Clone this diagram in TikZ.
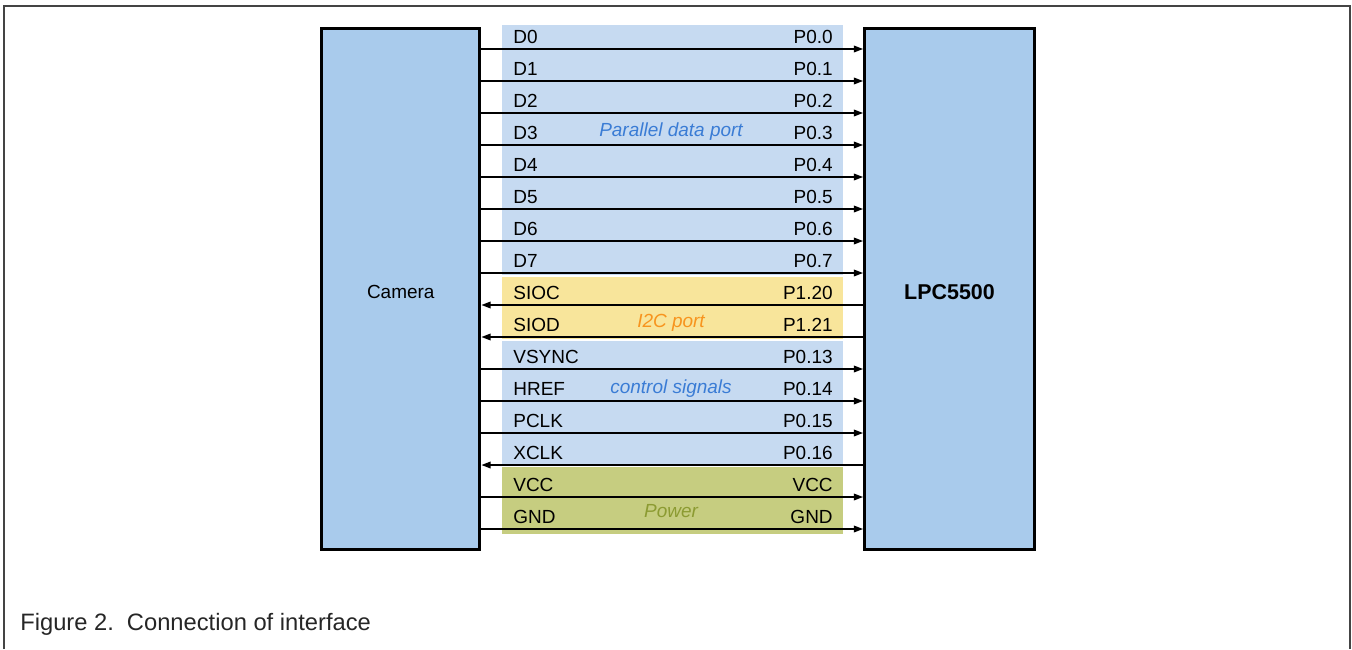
\documentclass[tikz,border=0pt]{standalone}
\usepackage{fontspec}
\setmainfont{Liberation Sans}
\usetikzlibrary{arrows.meta,positioning}

\definecolor{chipblue}{HTML}{A9CBEC}
\definecolor{bandblue}{HTML}{C6DAF1}
\definecolor{bandyellow}{HTML}{F8E59B}
\definecolor{bandolive}{HTML}{C6CD80}
\definecolor{txtblue}{HTML}{3A7CD5}
\definecolor{txtorange}{HTML}{F7941E}
\definecolor{txtolive}{HTML}{8C9B32}
\definecolor{framegray}{HTML}{444444}
\definecolor{capgray}{HTML}{262626}

\begin{document}
\begin{tikzpicture}[x=0.02cm, y=-0.02cm,
  chip/.style={rectangle, draw, line width=1.7pt, fill=chipblue,
               minimum width=3.17cm, minimum height=10.42cm,
               text height=11.2pt, text depth=0pt,
               font=\fontsize{10.8}{13}\selectfont},
  lbl/.style={inner sep=0pt, font=\fontsize{10.8}{13}\selectfont, text=black},
  grp/.style={inner sep=0pt, anchor=base,
              font=\fontsize{10.8}{13}\selectfont\itshape},
  wire/.style={line width=0.75pt},
  fwd/.style={-{Triangle[length=5.2pt,width=3.8pt]}},
  back/.style={{Triangle[length=5.2pt,width=3.8pt]}-}
]
  \useasboundingbox (0,0) rectangle (1352,649);
  \draw[line width=1.14pt, draw=framegray] (4,649) -- (4,6) -- (1350,6) -- (1350,649);

  \fill[bandblue] (502,25) rectangle (843,275);
  \fill[bandyellow] (502,277) rectangle (843,339);
  \fill[bandblue] (502,341) rectangle (843,464);
  \fill[bandolive] (502,467) rectangle (843,534);

  \node[chip] (cam) at (400.75,289) {Camera};
  \node[chip, minimum width=3.40cm, text height=12.4pt,
        font=\fontsize{12.2}{14}\selectfont\bfseries]
    (lpc) at (949.5,289) {LPC5500};

  \foreach \sig/\pin/\dir [count=\i from 0] in
    {D0/P0.0/fwd, D1/P0.1/fwd, D2/P0.2/fwd, D3/P0.3/fwd,
     D4/P0.4/fwd, D5/P0.5/fwd, D6/P0.6/fwd, D7/P0.7/fwd,
     SIOC/P1.20/back, SIOD/P1.21/back,
     VSYNC/P0.13/fwd, HREF/P0.14/fwd, PCLK/P0.15/fwd, XCLK/P0.16/back,
     VCC/VCC/fwd, GND/GND/fwd} {
    \pgfmathsetmacro\y{49+32*\i}
    \coordinate (row\i) at (0,\y);
    \node[lbl, anchor=base west] (sig\i) at (513,\y-5.4) {\sig};
    \node[lbl, anchor=base east] (pin\i) at (833,\y-5.4) {\pin};
    \draw[wire,\dir] (cam.east |- row\i) -- (lpc.west |- row\i);
  }

  \node[grp, text=txtblue] (par) at (671,136) {Parallel data port};
  \node[grp, text=txtorange] (i2c) at (671,327) {I2C port};
  \node[grp, text=txtblue] (ctl) at (671,393) {control signals};
  \node[grp, text=txtolive] (pwr) at (671,517) {Power};

  \node[inner sep=0pt, anchor=base west, text=capgray,
        font=\fontsize{13.5}{16}\selectfont] (caption) at (20,630)
    {Figure 2.\hspace{0.55em}Connection of interface};
\end{tikzpicture}
\end{document}
